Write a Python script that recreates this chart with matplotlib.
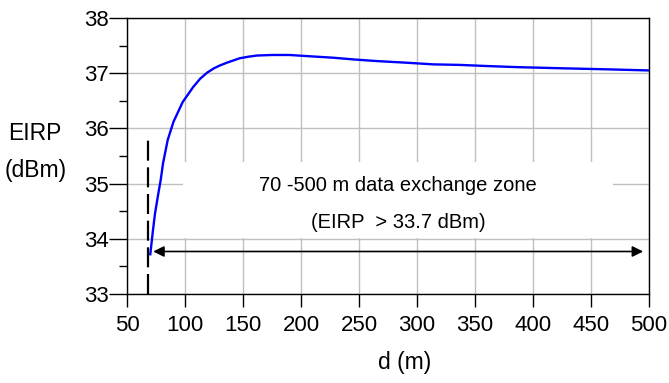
import numpy as np
import matplotlib
matplotlib.use("Agg")
from matplotlib import pyplot as plt
from matplotlib.patches import Rectangle

plt.rcParams['font.family'] = ['Liberation Sans', 'DejaVu Sans']

# EIRP curve
d = [70, 72, 74, 77, 79, 81, 85, 90, 98, 107, 113, 119, 125, 130, 136, 147,
     155, 162, 175, 190, 205, 228, 245, 265, 291, 314, 337, 360, 386, 423,
     464, 500]
eirp = [33.72, 34.10, 34.45, 34.83, 35.07, 35.37, 35.79, 36.12, 36.48, 36.75,
        36.90, 37.01, 37.09, 37.14, 37.19, 37.27, 37.30, 37.32, 37.33, 37.33,
        37.31, 37.28, 37.25, 37.22, 37.19, 37.16, 37.15, 37.13, 37.11, 37.09,
        37.07, 37.05]

# zone markers
zone_start = 68
zone_top = 35.85
arrow_y = 33.77
arrow_x = [72.5, 495]

xticks = [50, 100, 150, 200, 250, 300, 350, 400, 450, 500]
yticks = [33, 34, 35, 36, 37, 38]
zone_text = "70 -500 m data exchange zone"
cond_text = "(EIRP  > 33.7 dBm)"

fig = plt.figure(figsize=(6.69, 3.83), dpi=100)
ax = fig.add_axes([0.190, 0.2324, 0.780, 0.7206])

ax.set_xlim(50, 500)
ax.set_ylim(33, 38)
ax.set_xticks(xticks)
ax.set_yticks(yticks)
ax.set_yticks(np.arange(33.5, 38, 1.0), minor=True)
ax.set_axisbelow(True)
ax.grid(True, which='major', color='#c0c0c0', linewidth=1.0)

ax.tick_params(axis='x', which='major', direction='out', length=9.5,
               width=1.0, labelsize=16, pad=5.5)
ax.tick_params(axis='y', which='major', direction='out', length=13,
               width=1.0, labelsize=16, pad=0.5)
ax.tick_params(axis='y', which='minor', direction='out', length=6, width=1.0)
for sp in ax.spines.values():
    sp.set_linewidth(1.0)

# white box behind the text, hides the grid
ax.add_patch(Rectangle((98.5, 34.02), 469 - 98.5, 35.39 - 34.02,
                       facecolor='white', edgecolor='none', zorder=1))

ax.plot(d, eirp, color='#0000ff', linewidth=1.7, zorder=3)

ax.plot([zone_start, zone_start], [33, zone_top], color='black',
        linewidth=1.6, dashes=(9, 3), zorder=3, clip_on=False)

ax.annotate('', xy=(arrow_x[1], arrow_y), xytext=(arrow_x[0], arrow_y),
            arrowprops=dict(arrowstyle='<|-|>', color='black', lw=1.2,
                            mutation_scale=16, shrinkA=0, shrinkB=0),
            zorder=3)

ax.text(283.5, 34.96, zone_text, ha='center', va='center', fontsize=14.5,
        zorder=4)
ax.text(283.5, 34.30, cond_text, ha='center', va='center', fontsize=14.5,
        zorder=4)

fig.text(35 / 669, 1 - 133 / 383, "EIRP", ha='center', va='center', fontsize=16.5)
fig.text(36 / 669, 1 - 170 / 383, "(dBm)", ha='center', va='center', fontsize=16.5)
fig.text(405 / 669, 1 - 362 / 383, "d (m)", ha='center', va='center', fontsize=16.5)

fig.savefig("out.png", dpi=100)
